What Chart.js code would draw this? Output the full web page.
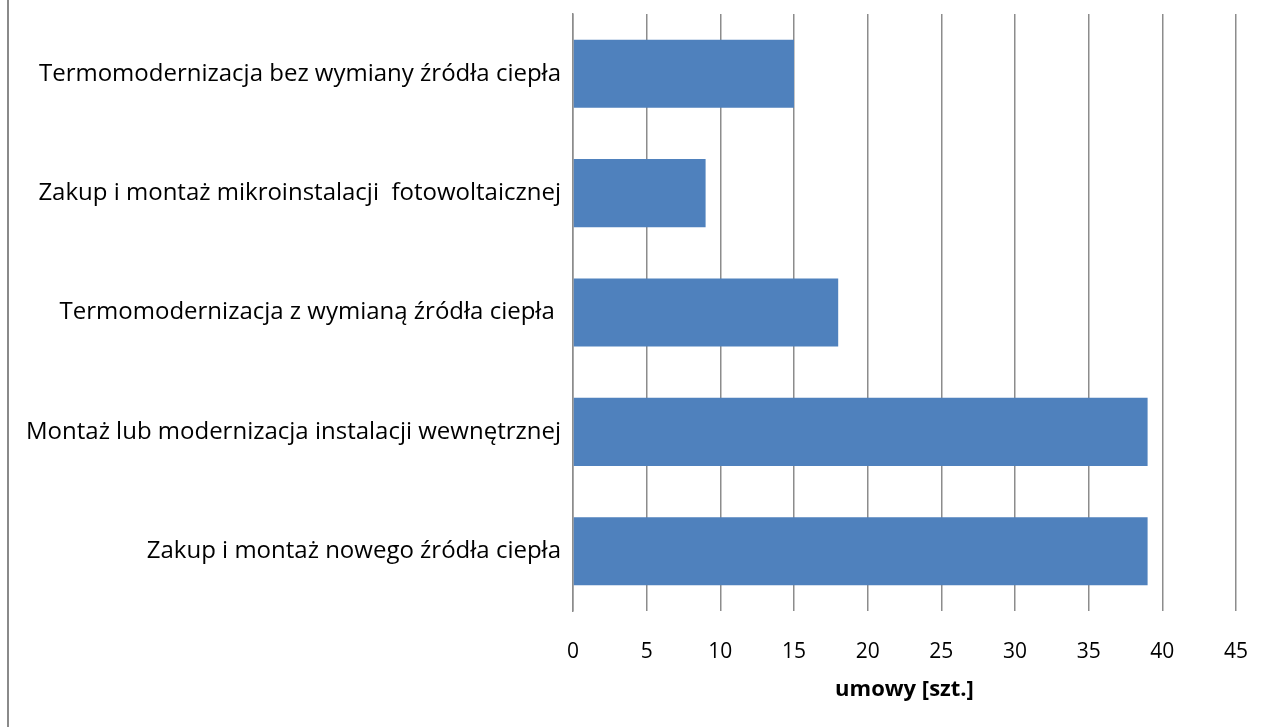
<!DOCTYPE html>
<html>
<head>
<meta charset="utf-8">
<script src="https://cdn.jsdelivr.net/npm/chart.js@4.4.1/dist/chart.umd.min.js"></script>
<style>
  html, body { margin: 0; padding: 0; background: #fff; }
  #wrap { position: relative; width: 1266px; height: 727px; }
  #edge { position: absolute; left: 7px; top: 0; width: 2px; height: 727px; background: #8a8a8a; }
</style>
</head>
<body>
<div id="wrap">
  <canvas id="chart" width="1266" height="727"></canvas>
  <div id="edge"></div>
</div>
<script>
// Categories (top to bottom) and number of contracts
const categories = [
  'Termomodernizacja bez wymiany źródła ciepła',
  'Zakup i montaż mikroinstalacji  fotowoltaicznej',
  'Termomodernizacja z wymianą źródła ciepła ',
  'Montaż lub modernizacja instalacji wewnętrznej',
  'Zakup i montaż nowego źródła ciepła',
];
const contracts = [15, 9, 18, 39, 39];
const axisTitle = 'umowy [szt.]';
const xMax = 45;
const xStep = 5;

const gridColor = '#8c8c8c';
const fontFamily = '"Open Sans", "Noto Sans", sans-serif';

new Chart(document.getElementById('chart'), {
  type: 'bar',
  data: {
    labels: categories,
    datasets: [{
      data: contracts,
      backgroundColor: '#4f81bd',
      borderWidth: 0,
      categoryPercentage: 1,
      barPercentage: 0.57,
    }],
  },
  options: {
    indexAxis: 'y',
    responsive: false,
    animation: false,
    layout: { padding: { top: 14, right: 30, bottom: 24, left: 0 } },
    plugins: { legend: { display: false }, tooltip: { enabled: false } },
    scales: {
      x: {
        min: 0,
        max: xMax,
        ticks: { stepSize: xStep, color: '#000', padding: 28, font: { family: fontFamily, size: 21 } },
        grid: { color: gridColor, lineWidth: 1.5, drawTicks: false },
        border: { display: false },
        title: {
          display: true,
          text: axisTitle,
          color: '#000',
          padding: { top: 4, bottom: 0 },
          font: { family: fontFamily, size: 22, weight: 'bold' },
        },
        afterFit: (scale) => {
          scale.height = 92;
          scale.paddingLeft = 0;
          scale.paddingRight = 0;
        },
      },
      y: {
        ticks: { color: '#000', padding: 12, font: { family: fontFamily, size: 24 } },
        grid: { display: false, drawTicks: false },
        border: { display: true, color: gridColor, width: 1.5 },
        afterFit: (scale) => {
          scale.width = 573;
          scale.paddingTop = 0;
          scale.paddingBottom = 0;
        },
      },
    },
  },
});
</script>
</body>
</html>
